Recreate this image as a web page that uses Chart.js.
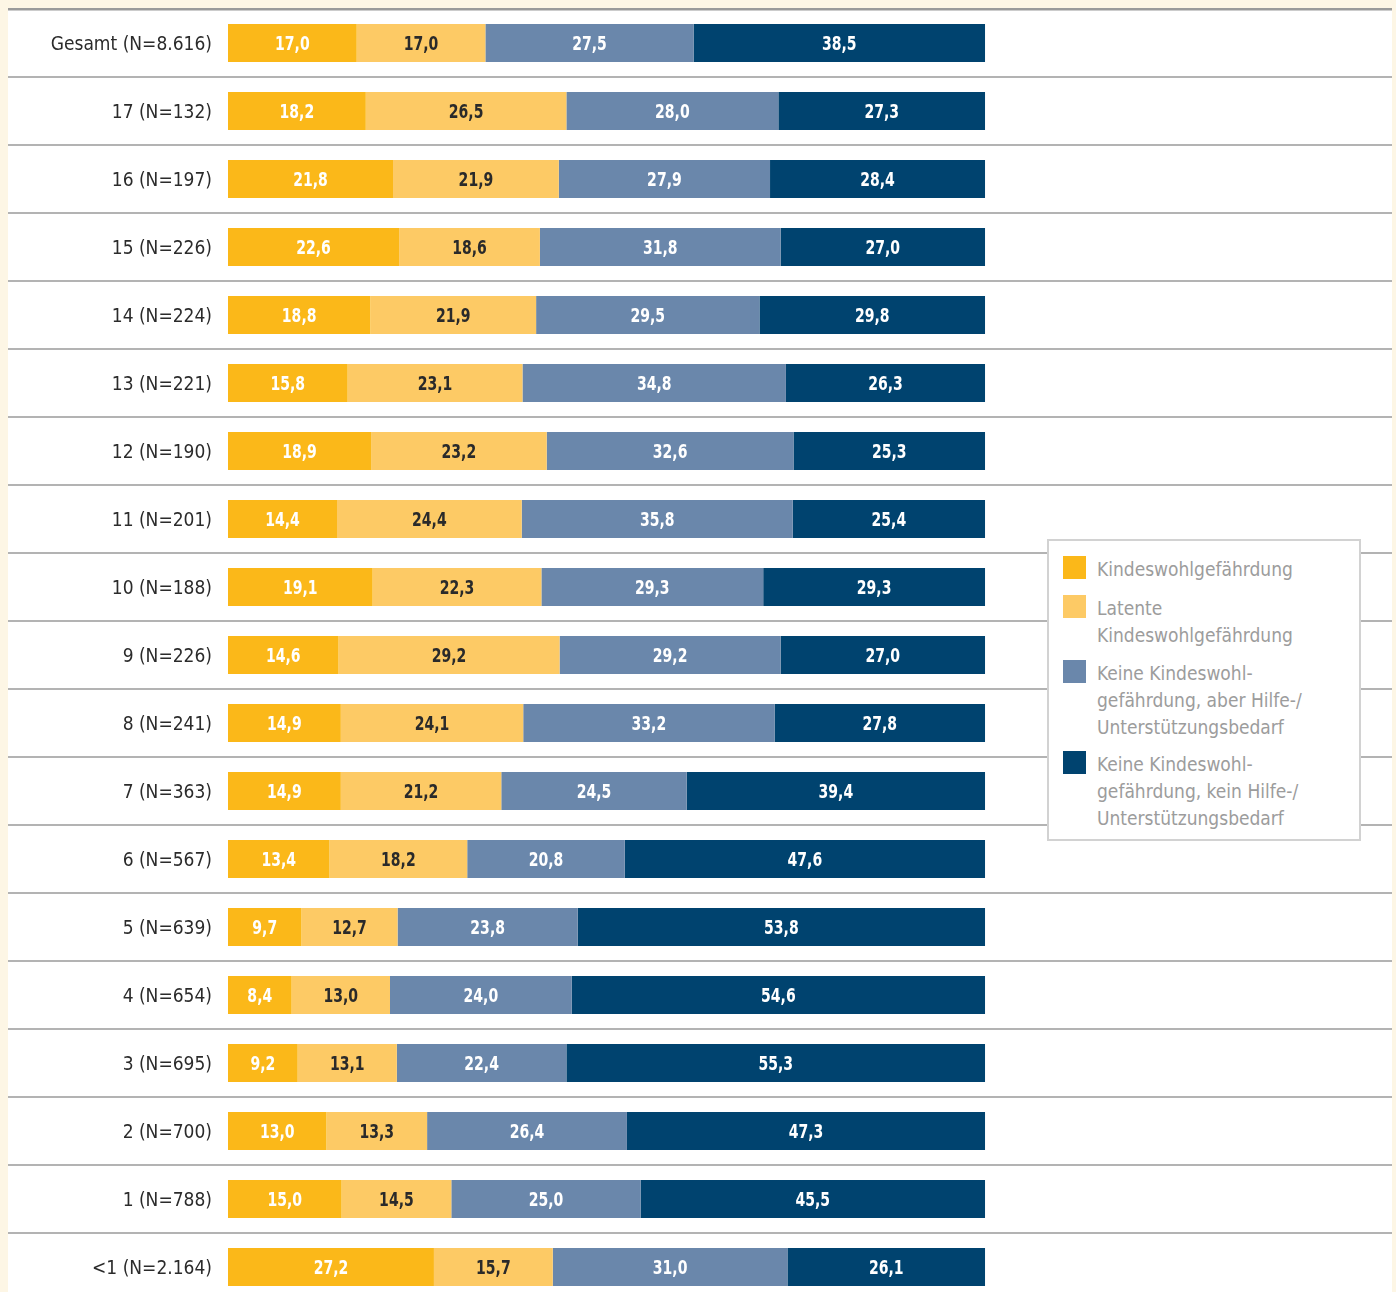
<!DOCTYPE html>
<html lang="de">
<head>
<meta charset="utf-8">
<title>Einschätzung nach Alter</title>
<script src="https://cdn.jsdelivr.net/npm/chart.js@4.4.1/dist/chart.umd.min.js"></script>
<style>
  html, body { margin: 0; padding: 0; background: #fdf6e5; overflow: hidden; width: 1396px; height: 1292px; }
  #panel { position: absolute; left: 8px; top: 8px; width: 1384px; height: 1300px; background: #fff; }
  #wrap { position: absolute; left: 8px; top: 0; width: 1384px; height: 1301px; }
  #legend {
    position: absolute; left: 1047px; top: 539px; width: 310px; height: 298px;
    background: #fff; border: 2px solid #d2d2d2;
    font-family: 'Liberation Sans Narrow', 'DejaVu Sans Condensed', sans-serif;
    font-size: 19px; line-height: 27px; color: #9c9c9c;
  }
  .item { position: absolute; left: 48px; }
  .swatch { position: absolute; left: -34px; top: 0; width: 23px; height: 23px; }
</style>
</head>
<body>
<div id="panel"></div>
<div id="wrap"><canvas id="chart" width="1384" height="1301"></canvas></div>
<div id="legend"></div>
<script>
  'use strict';

  const FONT = "'Liberation Sans Narrow', 'DejaVu Sans Condensed', sans-serif";

  const categories = [
    'Gesamt (N=8.616)', '17 (N=132)', '16 (N=197)', '15 (N=226)', '14 (N=224)',
    '13 (N=221)', '12 (N=190)', '11 (N=201)', '10 (N=188)', '9 (N=226)',
    '8 (N=241)', '7 (N=363)', '6 (N=567)', '5 (N=639)', '4 (N=654)',
    '3 (N=695)', '2 (N=700)', '1 (N=788)', '<1 (N=2.164)'
  ];

  const gefaehrdung = [17.0, 18.2, 21.8, 22.6, 18.8, 15.8, 18.9, 14.4, 19.1, 14.6, 14.9, 14.9, 13.4, 9.7, 8.4, 9.2, 13.0, 15.0, 27.2];
  const latent      = [17.0, 26.5, 21.9, 18.6, 21.9, 23.1, 23.2, 24.4, 22.3, 29.2, 24.1, 21.2, 18.2, 12.7, 13.0, 13.1, 13.3, 14.5, 15.7];
  const hilfebedarf = [27.5, 28.0, 27.9, 31.8, 29.5, 34.8, 32.6, 35.8, 29.3, 29.2, 33.2, 24.5, 20.8, 23.8, 24.0, 22.4, 26.4, 25.0, 31.0];
  const keinBedarf  = [38.5, 27.3, 28.4, 27.0, 29.8, 26.3, 25.3, 25.4, 29.3, 27.0, 27.8, 39.4, 47.6, 53.8, 54.6, 55.3, 47.3, 45.5, 26.1];

  const seriesLabels = [
    ['Kindeswohlgefährdung'],
    ['Latente', 'Kindeswohlgefährdung'],
    ['Keine Kindeswohl-', 'gefährdung, aber Hilfe-/', 'Unterstützungsbedarf'],
    ['Keine Kindeswohl-', 'gefährdung, kein Hilfe-/', 'Unterstützungsbedarf']
  ];
  const colors = ['#fbb819', '#fdca65', '#6a87ab', '#00436f'];
  const textColors = ['#ffffff', '#2a2a2a', '#ffffff', '#ffffff'];

  function fmt(v) {
    return v.toFixed(1).replace('.', ',');
  }

  // Werte mittig in die Segmente schreiben (schmal gestaucht wie im Original)
  const valueLabels = {
    id: 'valueLabels',
    afterDatasetsDraw(chart) {
      const ctx = chart.ctx;
      const squeeze = 0.78;
      ctx.save();
      ctx.font = 'bold 20px ' + FONT;
      ctx.textAlign = 'center';
      ctx.textBaseline = 'middle';
      chart.data.datasets.forEach(function (ds, i) {
        chart.getDatasetMeta(i).data.forEach(function (bar, j) {
          const p = bar.getProps(['x', 'y', 'base'], true);
          ctx.save();
          ctx.translate((p.x + p.base) / 2, p.y + 2);
          ctx.scale(squeeze, 1);
          ctx.fillStyle = textColors[i];
          ctx.fillText(fmt(ds.data[j]), 0, 0);
          ctx.restore();
        });
      });
      ctx.restore();
    }
  };

  const allSeries = [gefaehrdung, latent, hilfebedarf, keinBedarf];

  const chart = new Chart(document.getElementById('chart'), {
    type: 'bar',
    data: {
      labels: categories,
      datasets: allSeries.map(function (data, i) {
        return {
          label: seriesLabels[i].join(' '),
          data: data,
          backgroundColor: colors[i],
          borderWidth: 0,
          barPercentage: 38 / 68,
          categoryPercentage: 1
        };
      })
    },
    options: {
      indexAxis: 'y',
      responsive: false,
      animation: false,
      layout: { padding: { top: 9, left: 0, right: 0, bottom: 0 } },
      plugins: {
        legend: { display: false },
        tooltip: { enabled: false }
      },
      scales: {
        x: {
          stacked: true,
          display: false,
          min: 0,
          max: 153.76
        },
        y: {
          stacked: true,
          border: { display: false },
          grid: {
            offset: true,
            tickLength: 220,
            color: function (c) { return c.index === 0 ? '#9a9a9a' : '#b3b3b3'; },
            lineWidth: function (c) { return c.index === 0 ? 2.5 : 2; }
          },
          ticks: {
            padding: -204,
            labelOffset: 2,
            color: '#2b2b2b',
            font: { family: FONT, size: 19 }
          },
          afterFit: function (scale) { scale.width = 220; }
        }
      }
    },
    plugins: [valueLabels]
  });

  // HTML-Legende aus den Datensätzen
  const legendEl = document.getElementById('legend');
  const itemTops = [15, 53.5, 118.5, 209.5];
  chart.data.datasets.forEach(function (ds, i) {
    const item = document.createElement('div');
    item.className = 'item';
    item.style.top = itemTops[i] + 'px';
    item.innerHTML = '<span class="swatch" style="background:' + colors[i] + '"></span>' + seriesLabels[i].join('<br>');
    legendEl.appendChild(item);
  });
</script>
</body>
</html>
